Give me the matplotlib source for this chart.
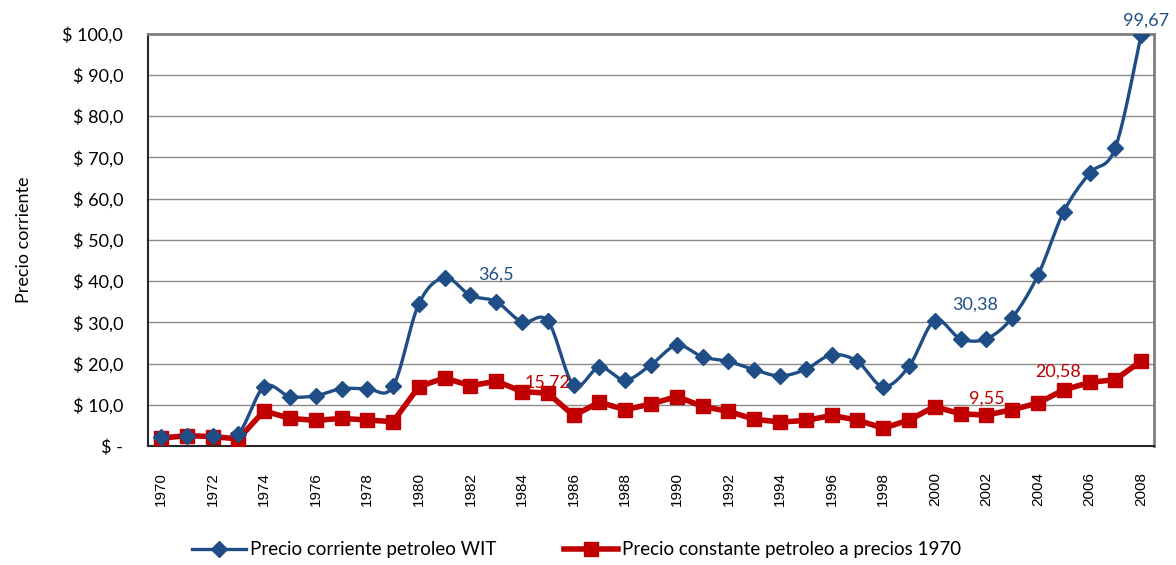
import numpy as np
import matplotlib.pyplot as plt
from matplotlib.ticker import FuncFormatter

years = list(range(1970, 2009))
precio_corriente = [2.2, 2.5, 2.5, 3.0, 14.4, 12.0, 12.2, 13.9, 13.9, 14.5,
                    34.5, 40.8, 36.5, 35.0, 30.1, 30.3, 14.8, 19.1, 16.0, 19.7,
                    24.4, 21.6, 20.5, 18.5, 17.0, 18.6, 22.1, 20.5, 14.4, 19.3,
                    30.38, 26.0, 26.0, 31.1, 41.4, 56.8, 66.1, 72.3, 99.67]
precio_constante = [1.9, 2.5, 2.3, 1.7, 8.5, 6.7, 6.2, 6.7, 6.3, 5.9,
                    14.4, 16.5, 14.6, 15.72, 13.2, 12.8, 7.4, 10.6, 8.8, 10.2,
                    12.0, 9.6, 8.4, 6.5, 5.8, 6.2, 7.4, 6.3, 4.3, 6.3,
                    9.55, 7.8, 7.5, 8.8, 10.4, 13.6, 15.4, 16.1, 20.58]
# data labels: (series, year, text)
etiquetas = [("corriente", 1983, "36,5"), ("constante", 1984, "15,72"),
             ("corriente", 2001, "30,38"), ("constante", 2001, "9,55"),
             ("constante", 2005, "20,58"), ("corriente", 2008, "99,67")]

BLUE = '#1f4e86'
RED = '#c00000'
plt.rcParams['font.family'] = ['Lato', 'DejaVu Sans']


def smooth(x, y, n=20):
    # Catmull-Rom curve through the points (like Excel's smoothed line)
    x = np.asarray(x, float)
    y = np.asarray(y, float)
    px = np.concatenate([[x[0]], x, [x[-1]]])
    py = np.concatenate([[y[0]], y, [y[-1]]])
    xs, ys = [], []
    t = np.linspace(0, 1, n, endpoint=False)
    for i in range(1, len(px) - 2):
        for p, out in ((px, xs), (py, ys)):
            p0, p1, p2, p3 = p[i - 1], p[i], p[i + 1], p[i + 2]
            out.extend(0.5 * (2 * p1 + (-p0 + p2) * t
                              + (2 * p0 - 5 * p1 + 4 * p2 - p3) * t ** 2
                              + (-p0 + 3 * p1 - 3 * p2 + p3) * t ** 3))
    xs.append(x[-1])
    ys.append(y[-1])
    return np.array(xs), np.array(ys)


fig = plt.figure(figsize=(11.76, 5.65), dpi=100)
ax = fig.add_axes([0.1259, 0.2106, 0.8554, 0.7301])

xi = np.arange(len(years))
sx, sy = smooth(xi, precio_corriente)
ax.plot(sx, sy, color=BLUE, lw=2.4, zorder=3)
ax.plot(xi, precio_corriente, ls='none', marker='D', ms=8.5, color=BLUE, zorder=4)
ax.plot(xi, precio_constante, color=RED, lw=4, marker='s', ms=10, zorder=3)

# legend proxies
h1, = ax.plot([], [], color=BLUE, lw=2.4, marker='D', ms=8.5)
h2, = ax.plot([], [], color=RED, lw=4, marker='s', ms=10)

serie = {"corriente": precio_corriente, "constante": precio_constante}
offsets = {("corriente", 1983): (0.0, 6.5), ("constante", 1984): (1.0, 2.1),
           ("corriente", 2001): (0.55, 8.3), ("constante", 2001): (1.0, 3.6),
           ("constante", 2005): (-0.2, 4.4), ("corriente", 2008): (0.2, 3.4)}
for s, yr, txt in etiquetas:
    i = years.index(yr)
    dx, dy = offsets[(s, yr)]
    ax.text(i + dx, serie[s][i] + dy, txt, color=BLUE if s == "corriente" else RED,
            fontsize=13, ha='center', va='center', zorder=5, clip_on=False)

ax.set_xlim(-0.5, len(years) - 0.5)
ax.set_ylim(0, 100)
ax.set_yticks(np.arange(0, 101, 10))
ax.yaxis.set_major_formatter(FuncFormatter(
    lambda v, p: '$ -' if v == 0 else '$ ' + f'{v:.1f}'.replace('.', ',')))
ax.set_xticks(xi[::2])
ax.set_xticklabels([str(y) for y in years[::2]], rotation=90, fontsize=11,
                   family=['Liberation Sans', 'DejaVu Sans'])
ax.tick_params(axis='y', labelsize=13, length=0, pad=18)
ax.tick_params(axis='x', length=0, pad=19)
ax.grid(axis='y', color='#8c8c8c', lw=1)
ax.set_axisbelow(True)
for side in ['top', 'right']:
    ax.spines[side].set_color('#7f7f7f')
    ax.spines[side].set_linewidth(2)
for side in ['left', 'bottom']:
    ax.spines[side].set_color('#262626')
    ax.spines[side].set_linewidth(1.5)
ax.set_ylabel('Precio corriente', fontsize=13, labelpad=22)

fig.legend([h1, h2], ['Precio corriente petroleo WIT', 'Precio constante petroleo a precios 1970'],
           loc='center', bbox_to_anchor=(0.49, 0.027), ncol=2, frameon=False,
           fontsize=13.5, handlelength=2.9, columnspacing=3.6, handletextpad=0.2)

fig.savefig('out.png', dpi=100)
